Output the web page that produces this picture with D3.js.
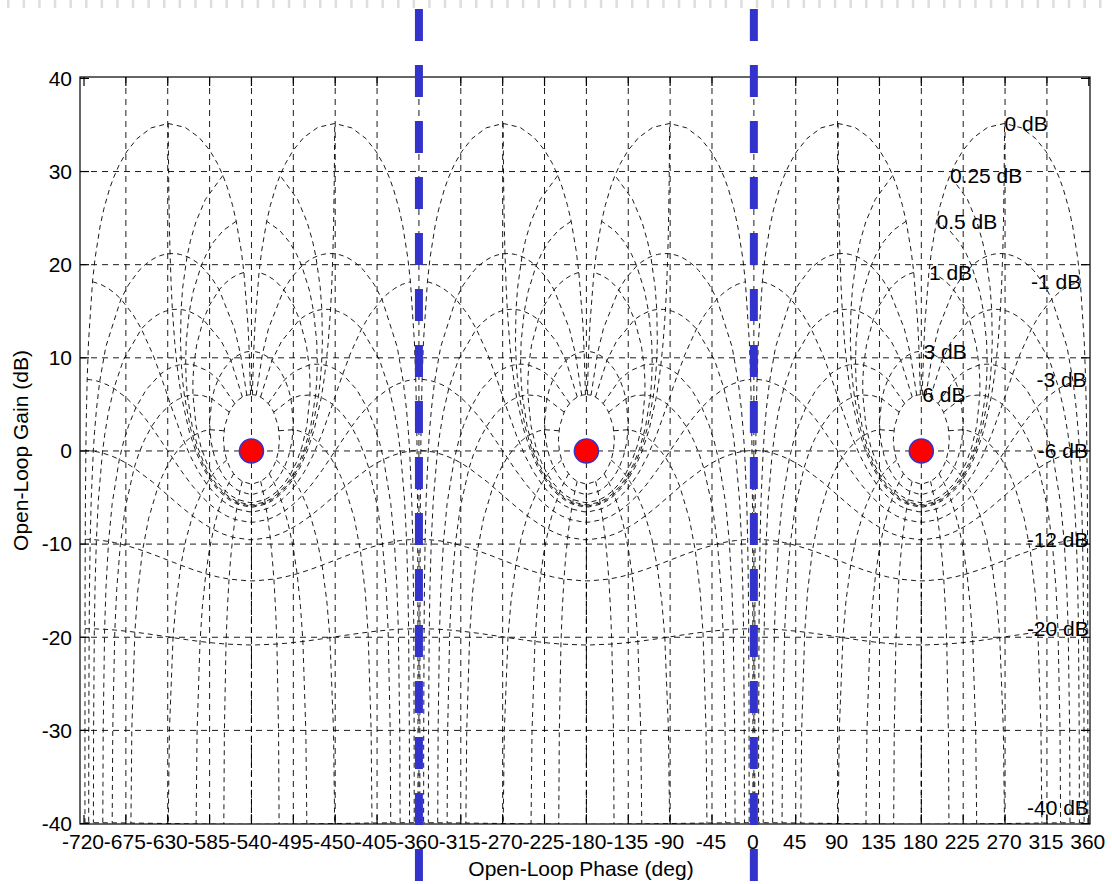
<!DOCTYPE html>
<html>
<head>
<meta charset="utf-8">
<script src="https://cdn.jsdelivr.net/npm/d3@7/dist/d3.min.js"></script>
<style>
  body { margin: 0; background: #fff; }
  svg { display: block; }
  text { font-family: "Liberation Sans", Arial, Helvetica, sans-serif; fill: #000; }
</style>
</head>
<body>
<svg id="chart" width="1112" height="884"></svg>
<script>
// ---- Nichols grid definition ----
// Closed-loop magnitude contours (dB)
const gainContours = [6, 3, 1, 0.5, 0.25, 0, -1, -3, -6, -12, -20, -40];
// Closed-loop phase values (deg) sampled along each magnitude contour (0..180, mirrored to 360)
const gainContourPhases = [1, 2, 3, 4, 5, 7.5, 10, 15, 20, 25, 30, 45, 60, 75, 90, 105, 120, 135, 150, 175, 180];
// Closed-loop phase contours (deg), mirrored about 180
const phaseContours = [1, 5, 10, 20, 30, 50, 90, 120, 150, 180];
// Closed-loop magnitudes (dB) sampled along each phase contour
const phaseContourGains = [6, 3, 2, 1, 0.75, 0.5, 0.4, 0.3, 0.25, 0.2, 0.15, 0.1, 0.05, 0,
  -0.05, -0.1, -0.15, -0.2, -0.25, -0.3, -0.4, -0.5, -0.75, -1, -2, -3, -4, -5, -6, -9,
  -12, -16, -20, -30, -40, -40];
// The grid repeats every 360 deg across the phase axis
const periodShifts = [-720, -360, 0];

// Axis ticks
const phaseTicks = [-720, -675, -630, -585, -540, -495, -450, -405, -360, -315, -270, -225,
  -180, -135, -90, -45, 0, 45, 90, 135, 180, 225, 270, 315, 360];
const gainTicks = [-40, -30, -20, -10, 0, 10, 20, 30, 40];

// Critical points (-1 + j0) and highlighted phase lines
const criticalPhases = [-540, -180, 180];
const criticalGains = [0, 0, 0];
const referencePhases = [-360, 0];

// ---- layout ----
const W = 1112, H = 884;
const plot = { left: 80, right: 1090, top: 77, bottom: 824 };
const fontSize = 21;

const svg = d3.select("#chart");
const x = d3.scaleLinear().domain([-724.3, 361.3]).range([plot.left, plot.right]);
const y = d3.scaleLinear().domain([-40.05, 40.15]).range([plot.bottom, plot.top]);

// open-loop response G = T/(1-T) for a closed-loop point T = m*e^{j*phi}
function openLoop(mDb, phDeg) {
  const g = Math.pow(10, mDb / 20), p = phDeg * Math.PI / 180;
  const zr = g * Math.cos(p), zi = g * Math.sin(p);
  const dr = 1 - zr, di = -zi;
  const den = dr * dr + di * di;
  const hr = (zr * dr + zi * di) / den;
  const hi = (zi * dr - zr * di) / den;
  const gain = 20 * Math.log10(Math.hypot(hr, hi));
  const phase = ((Math.atan2(hi, hr) * 180 / Math.PI) + 360) % 360;
  return { gain, phase };
}

// light dashed strip along the very top
svg.append("line")
  .attr("x1", 0).attr("x2", W).attr("y1", 4).attr("y2", 4)
  .attr("stroke", "#dedede").attr("stroke-width", 8)
  .attr("stroke-dasharray", "2.5,13.1").attr("stroke-dashoffset", -7);

svg.append("defs").append("clipPath").attr("id", "plotClip")
  .append("rect")
  .attr("x", plot.left).attr("y", plot.top)
  .attr("width", plot.right - plot.left).attr("height", plot.bottom - plot.top);

const grid = svg.append("g").attr("stroke", "#000").attr("stroke-width", 0.9)
  .attr("stroke-dasharray", "6,5").attr("fill", "none");

// axis grid lines
grid.selectAll(".vg").data(phaseTicks.slice(1, -1)).join("line")
  .attr("x1", d => x(d)).attr("x2", d => x(d))
  .attr("y1", plot.top).attr("y2", plot.bottom);
grid.selectAll(".hg").data(gainTicks.slice(1, -1)).join("line")
  .attr("x1", plot.left).attr("x2", plot.right)
  .attr("y1", d => y(d)).attr("y2", d => y(d));

// Nichols contours
const contours = svg.append("g").attr("clip-path", "url(#plotClip)")
  .attr("stroke", "#000").attr("stroke-width", 0.9)
  .attr("stroke-dasharray", "5,4").attr("fill", "none");
const line = d3.line().x(d => x(d.phase)).y(d => y(d.gain));

// constant closed-loop phase lines
const isoPhase = [];
phaseContours.forEach(p => {
  const pts = phaseContourGains.map(m => openLoop(m, p));
  isoPhase.push(pts);
  isoPhase.push(pts.map(d => ({ gain: d.gain, phase: 360 - d.phase })));
});
// constant closed-loop magnitude lines
const fullPhases = gainContourPhases.concat(
  gainContourPhases.slice(0, -1).reverse().map(p => 360 - p));
const isoGain = gainContours.map(m => fullPhases.map(p => openLoop(m, p)));

periodShifts.forEach(k => {
  isoPhase.concat(isoGain).forEach(pts => {
    const shifted = pts.map(d => ({ gain: d.gain, phase: d.phase + k }));
    contours.append("path").attr("d", line(shifted));
  });
});

// magnitude contour labels, placed at the end of the last period
const lastShift = periodShifts[periodShifts.length - 1];
const labels = svg.append("g").attr("font-size", fontSize);
gainContours.forEach((m, i) => {
  const end = isoGain[i][isoGain[i].length - 1];
  let ly = y(end.gain);
  ly = Math.min(ly, plot.bottom - 16);
  labels.append("text")
    .attr("x", x(end.phase + lastShift) + (m >= 0 ? 0 : 1))
    .attr("y", ly)
    .attr("dy", "0.35em")
    .attr("text-anchor", m >= 0 ? "start" : "end")
    .text(`${m} dB`);
});

// axes frame and ticks
const axisG = svg.append("g").attr("stroke", "#000").attr("stroke-width", 1.2).attr("fill", "none");
axisG.append("rect")
  .attr("x", plot.left).attr("y", plot.top)
  .attr("width", plot.right - plot.left).attr("height", plot.bottom - plot.top);
const tl = 9;
phaseTicks.forEach(t => {
  axisG.append("line").attr("x1", x(t)).attr("x2", x(t)).attr("y1", plot.bottom).attr("y2", plot.bottom - tl);
  axisG.append("line").attr("x1", x(t)).attr("x2", x(t)).attr("y1", plot.top).attr("y2", plot.top + tl);
});
gainTicks.forEach(t => {
  axisG.append("line").attr("x1", plot.left).attr("x2", plot.left + tl).attr("y1", y(t)).attr("y2", y(t));
  axisG.append("line").attr("x1", plot.right).attr("x2", plot.right - tl).attr("y1", y(t)).attr("y2", y(t));
});

const tickText = svg.append("g").attr("font-size", fontSize);
tickText.selectAll(".xt").data(phaseTicks).join("text")
  .attr("x", d => x(d) - 1).attr("y", plot.bottom + 25)
  .attr("text-anchor", "middle").text(d => d);
tickText.selectAll(".yt").data(gainTicks).join("text")
  .attr("x", plot.left - 8).attr("y", d => y(d)).attr("dy", "0.35em")
  .attr("text-anchor", "end").text(d => d);

svg.append("text").attr("x", (plot.left + plot.right) / 2 - 4).attr("y", 876)
  .attr("text-anchor", "middle").attr("font-size", fontSize).text("Open-Loop Phase (deg)");
svg.append("text")
  .attr("transform", `translate(28,${(plot.top + plot.bottom) / 2}) rotate(-90)`)
  .attr("text-anchor", "middle").attr("font-size", fontSize).text("Open-Loop Gain (dB)");

// highlighted phase lines
svg.selectAll(".ref").data(referencePhases).join("line")
  .attr("x1", d => x(d)).attr("x2", d => x(d))
  .attr("y1", 9).attr("y2", H)
  .attr("stroke", "#3333cc").attr("stroke-width", 8)
  .attr("stroke-dasharray", "32,24");

// critical points
svg.selectAll(".crit").data(criticalPhases).join("circle")
  .attr("cx", d => x(d)).attr("cy", (d, i) => y(criticalGains[i]))
  .attr("r", 12)
  .attr("fill", "#ff0000").attr("stroke", "#3333cc").attr("stroke-width", 1.6);
</script>
</body>
</html>
